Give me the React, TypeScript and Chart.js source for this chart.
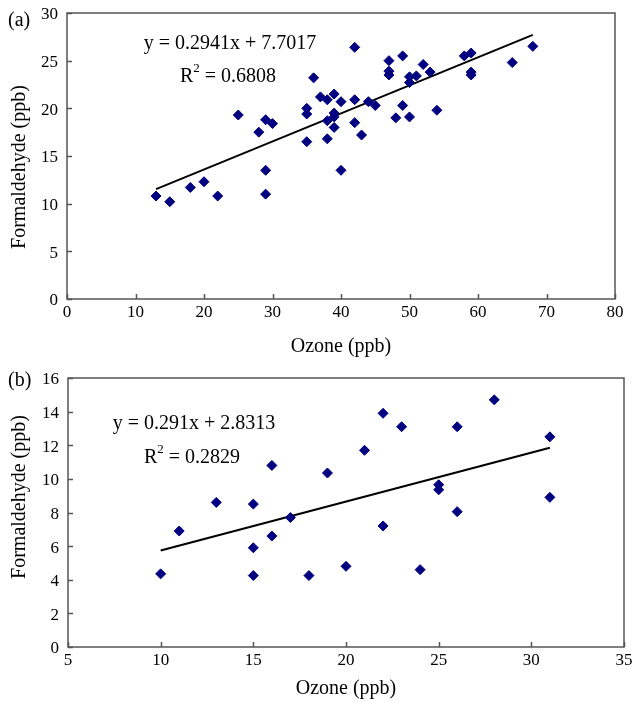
import React, { useEffect, useRef } from "react";
import { Chart, registerables } from "chart.js";

Chart.register(...registerables);

// ---- Panel (a) data ----
const ozoneA = [13, 15, 18, 20, 22, 25, 28, 29, 30, 29, 29, 35, 35, 35, 36, 37, 38, 38, 38, 39, 39, 39, 39, 40, 40, 42, 42, 42, 43, 44, 45, 47, 47, 47, 49, 49, 48, 50, 50, 50, 51, 52, 53, 54, 58, 59, 59, 59, 65, 68];
const formA = [10.8, 10.2, 11.7, 12.3, 10.8, 19.3, 17.5, 18.8, 18.4, 13.5, 11.0, 20.0, 19.4, 16.5, 23.2, 21.2, 20.9, 18.7, 16.8, 21.5, 19.5, 19.1, 18.0, 20.7, 13.5, 26.4, 20.9, 18.5, 17.2, 20.7, 20.3, 25.0, 23.9, 23.5, 25.5, 20.3, 19.0, 23.3, 22.7, 19.1, 23.4, 24.6, 23.8, 19.8, 25.5, 25.8, 23.8, 23.5, 24.8, 26.5];
const trendAx = [13, 68];
const trendAy = [11.52, 27.70];
const eqA = ["y = 0.2941x + 7.7017", "0.6808"];

// ---- Panel (b) data ----
const ozoneB = [10, 11, 13, 15, 15, 15, 16, 16, 17, 18, 19, 20, 21, 22, 22, 23, 24, 25, 25, 26, 26, 28, 31, 31];
const formB = [4.35, 6.9, 8.6, 8.5, 5.9, 4.25, 10.8, 6.6, 7.7, 4.25, 10.35, 4.8, 11.7, 13.9, 7.2, 13.1, 4.6, 9.65, 9.35, 13.1, 8.05, 14.7, 12.5, 8.9];
const trendBx = [10, 31];
const trendBy = [5.74, 11.85];
const eqB = ["y = 0.291x + 2.8313", "0.2829"];

const xTitle = "Ozone (ppb)";
const yTitle = "Formaldehyde (ppb)";

const FONT = "'Liberation Serif', 'Times New Roman', serif";

const framePlugin = {
  id: "frame",
  afterDraw(chart: any, _args: any, opts: any) {
    const { ctx, chartArea: a, scales } = chart;
    ctx.save();
    ctx.strokeStyle = "#555";
    ctx.lineWidth = 1.5;
    ctx.beginPath();
    scales.x.ticks.forEach((t: any) => {
      const px = Math.round(scales.x.getPixelForValue(t.value)) + 0.5;
      ctx.moveTo(px, a.bottom);
      ctx.lineTo(px, a.bottom - 5);
    });
    scales.y.ticks.forEach((t: any) => {
      const py = Math.round(scales.y.getPixelForValue(t.value)) + 0.5;
      ctx.moveTo(a.left, py);
      ctx.lineTo(a.left + 5, py);
    });
    ctx.stroke();
    ctx.strokeRect(a.left, a.top, a.right - a.left, a.bottom - a.top);

    ctx.fillStyle = "#000";
    ctx.textBaseline = "middle";
    // panel label
    ctx.font = `20px ${FONT}`;
    ctx.textAlign = "left";
    ctx.fillText(opts.panel, opts.panelX, opts.panelY);

    // equation line 1
    ctx.textAlign = "center";
    ctx.font = `20px ${FONT}`;
    ctx.fillText(opts.eq[0], opts.eqX[0], opts.eqY[0]);

    // equation line 2: R^2 = value
    const main = `20px ${FONT}`;
    const sup = `13px ${FONT}`;
    ctx.font = main;
    const wR = ctx.measureText("R").width;
    const rest = " = " + opts.eq[1];
    const wRest = ctx.measureText(rest).width;
    ctx.font = sup;
    const w2 = ctx.measureText("2").width;
    const total = wR + w2 + wRest;
    const x0 = opts.eqX[1] - total / 2;
    ctx.textAlign = "left";
    ctx.font = main;
    ctx.fillText("R", x0, opts.eqY[1]);
    ctx.font = sup;
    ctx.fillText("2", x0 + wR, opts.eqY[1] - 8);
    ctx.font = main;
    ctx.fillText(rest, x0 + wR + w2, opts.eqY[1]);

    // y axis title (rotated)
    ctx.save();
    ctx.translate(opts.yTitleX, opts.yTitleY);
    ctx.rotate(-Math.PI / 2);
    ctx.textAlign = "center";
    ctx.font = `20px ${FONT}`;
    ctx.fillText(yTitle, 0, 0);
    ctx.restore();

    ctx.restore();
  },
};

type PanelProps = {
  xs: number[];
  ys: number[];
  tx: number[];
  ty: number[];
  eq: string[];
  panel: string;
  panelY: number;
  eqX: number[];
  eqY: number[];
  yTitleY: number;
  xMin: number;
  xMax: number;
  xStep: number;
  yMin: number;
  yMax: number;
  yStep: number;
  top: number;
  height: number;
  yAxisW: number;
  xAxisH: number;
  padRight: number;
  xTitlePadBottom: number;
};

function Panel(p: PanelProps) {
  const ref = useRef<HTMLCanvasElement | null>(null);
  useEffect(() => {
    if (!ref.current) return;
    const chart = new Chart(ref.current, {
      type: "scatter",
      data: {
        datasets: [
          {
            data: p.xs.map((x, i) => ({ x, y: p.ys[i] })),
            pointStyle: "rectRot",
            pointRadius: 5,
            pointBackgroundColor: "#000080",
            pointBorderColor: "#000080",
            pointBorderWidth: 1,
          },
          {
            data: p.tx.map((x, i) => ({ x, y: p.ty[i] })),
            showLine: true,
            borderColor: "#000",
            borderWidth: 2,
            pointRadius: 0,
          },
        ],
      },
      options: {
        animation: false,
        responsive: false,
        devicePixelRatio: 1,
        layout: { padding: { left: 0, right: p.padRight, top: 13, bottom: 0 } },
        plugins: {
          legend: { display: false },
          tooltip: { enabled: false },
          frame: {
            panel: p.panel, panelX: 8, panelY: p.panelY,
            eq: p.eq, eqX: p.eqX, eqY: p.eqY,
            yTitleX: 20, yTitleY: p.yTitleY,
          },
        } as any,
        scales: {
          x: {
            type: "linear",
            min: p.xMin,
            max: p.xMax,
            grid: { display: false, drawTicks: true, tickLength: 3 },
            border: { display: false },
            ticks: { stepSize: p.xStep, color: "#000", padding: 0, maxRotation: 0, font: { family: FONT, size: 17 } },
            title: { display: true, text: xTitle, color: "#000", padding: { top: 0, bottom: p.xTitlePadBottom }, font: { family: FONT, size: 20 } },
            afterFit: (s: any) => { s.height = p.xAxisH; },
          },
          y: {
            type: "linear",
            min: p.yMin,
            max: p.yMax,
            grid: { display: false, drawTicks: true, tickLength: 9 },
            border: { display: false },
            ticks: { stepSize: p.yStep, color: "#000", padding: 0, labelOffset: 2, font: { family: FONT, size: 17 } },
            title: { display: false },
            afterFit: (s: any) => { s.width = p.yAxisW; },
          },
        },
      },
      plugins: [framePlugin],
    } as any);
    return () => chart.destroy();
  }, []);
  return (
    <canvas
      ref={ref}
      width={635}
      height={p.height}
      style={{ position: "absolute", left: 0, top: p.top, width: 635, height: p.height, display: "block" }}
    />
  );
}

export default function App() {
  return (
    <div style={{ position: "absolute", left: 0, top: 0, width: 635, height: 702, background: "#fff" }}>
      <Panel
        xs={ozoneA} ys={formA} tx={trendAx} ty={trendAy} eq={eqA}
        panel="(a)" panelY={21} eqX={[230, 228]} eqY={[44, 77]} yTitleY={167}
        xMin={0} xMax={80} xStep={10} yMin={0} yMax={30} yStep={5}
        top={0} height={365} yAxisW={67} xAxisH={66} padRight={20} xTitlePadBottom={6}
      />
      <Panel
        xs={ozoneB} ys={formB} tx={trendBx} ty={trendBy} eq={eqB}
        panel="(b)" panelY={16} eqX={[194, 192]} eqY={[59, 93]} yTitleY={132}
        xMin={5} xMax={35} xStep={5} yMin={0} yMax={16} yStep={2}
        top={365} height={337} yAxisW={68} xAxisH={55} padRight={11} xTitlePadBottom={1}
      />
    </div>
  );
}
